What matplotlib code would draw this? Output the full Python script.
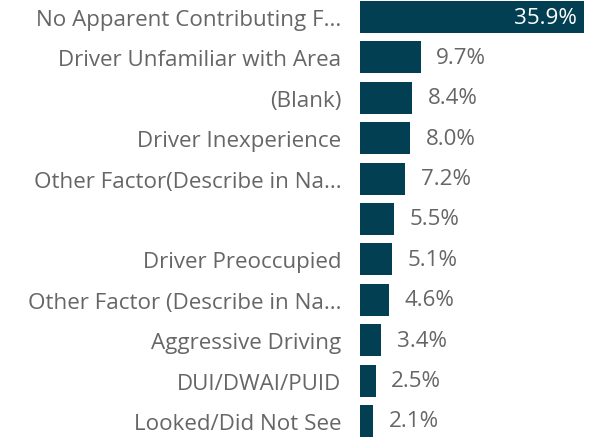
import matplotlib
matplotlib.use("Agg")
import matplotlib.pyplot as plt

factors = ["No Apparent Contributing F...", "Driver Unfamiliar with Area", "(Blank)",
           "Driver Inexperience", "Other Factor(Describe in Na...", "",
           "Driver Preoccupied", "Other Factor (Describe in Na...", "Aggressive Driving",
           "DUI/DWAI/PUID", "Looked/Did Not See"]
shares = [35.9, 9.7, 8.4, 8.0, 7.2, 5.5, 5.1, 4.6, 3.4, 2.5, 2.1]

bar_color = "#023f52"
text_color = "#666666"
plt.rcParams['font.family'] = ['Open Sans', 'DejaVu Sans']

W, H = 596, 439
fig = plt.figure(figsize=(W / 100, H / 100), dpi=100)
ax = fig.add_axes([360 / W, 0, 236 / W, 1])

pos = list(range(len(factors)))
ax.barh(pos, shares, height=0.79, color=bar_color)
ax.set_xlim(0, 236 / 6.24)
ax.set_ylim(10 + 17 / 40.4, -18 / 40.4)

ax.set_yticks(pos)
ax.set_yticklabels(factors, fontsize=16.1, color=text_color)
ax.tick_params(axis="y", length=0, pad=13.5)
ax.set_xticks([])
for s in ax.spines.values():
    s.set_visible(False)

for p, v in zip(pos, shares):
    if v > 30:
        ax.text(v - 1.1, p, f"{v:.1f}%", ha="right", va="center",
                fontsize=16.1, color="white")
    else:
        ax.text(v + 2.5, p, f"{v:.1f}%", ha="left", va="center",
                fontsize=16.1, color=text_color)

fig.savefig("out.png", dpi=100)
